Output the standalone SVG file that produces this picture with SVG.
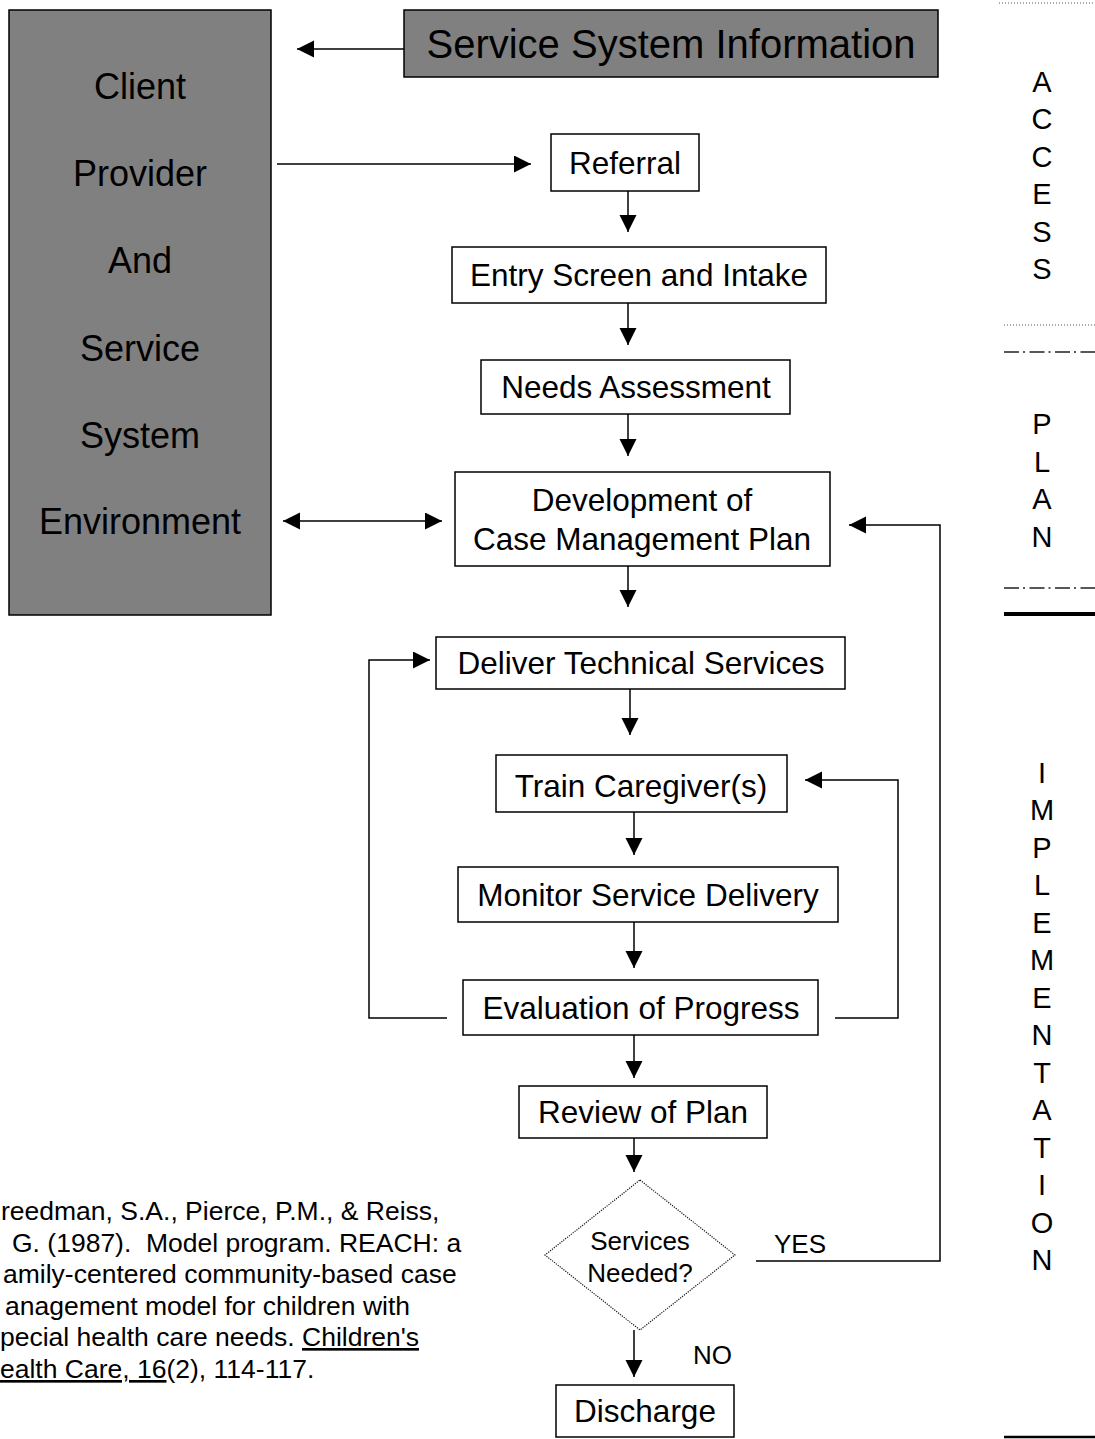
<svg xmlns="http://www.w3.org/2000/svg" width="1095" height="1439" viewBox="0 0 1095 1439">
<defs>
<marker id="ah" markerUnits="userSpaceOnUse" markerWidth="18" markerHeight="18" refX="17" refY="8.5" orient="auto-start-reverse">
<path d="M0,0 L17,8.5 L0,17 z" fill="#000"/>
</marker>
<style>
text{font-family:"Liberation Sans",Arial,sans-serif;fill:#000}
.box{fill:#fff;stroke:#000;stroke-width:1.5}
.gray{fill:#808080;stroke:#000;stroke-width:1.5}
.lbl{font-size:31.5px;text-anchor:middle}
.big{font-size:36px;text-anchor:middle}
.side{font-size:29px;text-anchor:middle}
.cite{font-size:26.5px}
.con{fill:none;stroke:#000;stroke-width:1.5}
.arr{marker-end:url(#ah)}
.dot{stroke:#555;stroke-width:1;stroke-dasharray:1 2}
.dd{stroke:#222;stroke-width:1.6;stroke-dasharray:15 4 2 4.5}
</style>
</defs>

<g id="environment">
<rect class="gray" x="9" y="10" width="262" height="605"/>
<text class="big" x="140" y="99">Client</text>
<text class="big" x="140" y="186">Provider</text>
<text class="big" x="140" y="273">And</text>
<text class="big" x="140" y="361">Service</text>
<text class="big" x="140" y="448">System</text>
<text class="big" x="140" y="534">Environment</text>
</g>

<g id="info">
<rect class="gray" x="404" y="10" width="534" height="67"/>
<text x="671" y="58" style="font-size:40px;text-anchor:middle">Service System Information</text>
</g>

<g id="referral"><rect class="box" x="551" y="134" width="148" height="57"/><text class="lbl" x="625" y="174">Referral</text></g>
<g id="entry"><rect class="box" x="452" y="247" width="374" height="56"/><text class="lbl" x="639" y="286">Entry Screen and Intake</text></g>
<g id="needs"><rect class="box" x="481" y="360" width="309" height="54"/><text class="lbl" x="636" y="398">Needs Assessment</text></g>
<g id="plan"><rect class="box" x="455" y="472" width="375" height="94"/><text class="lbl" x="642" y="511">Development of</text><text class="lbl" x="642" y="550">Case Management Plan</text></g>
<g id="deliver"><rect class="box" x="436" y="637" width="409" height="52"/><text class="lbl" x="641" y="674">Deliver Technical Services</text></g>
<g id="train"><rect class="box" x="496" y="755" width="291" height="57"/><text class="lbl" x="641" y="797">Train Caregiver(s)</text></g>
<g id="monitor"><rect class="box" x="458" y="867" width="380" height="55"/><text class="lbl" x="648" y="906">Monitor Service Delivery</text></g>
<g id="evaluation"><rect class="box" x="463" y="980" width="355" height="55"/><text class="lbl" x="641" y="1019">Evaluation of Progress</text></g>
<g id="review"><rect class="box" x="519" y="1086" width="248" height="52"/><text class="lbl" x="643" y="1123">Review of Plan</text></g>
<g id="decision">
<polygon points="640,1180 735,1255 640,1330 545,1255" fill="#fff" stroke="#111" stroke-width="1.2" stroke-dasharray="1.2 1.2"/>
<text x="640" y="1250" style="font-size:26px;text-anchor:middle">Services</text>
<text x="640" y="1282" style="font-size:26px;text-anchor:middle">Needed?</text>
</g>
<g id="discharge"><rect class="box" x="556" y="1385" width="178" height="52"/><text class="lbl" x="645" y="1422">Discharge</text></g>

<g id="connectors">
<line class="con arr" x1="404" y1="49" x2="297" y2="49"/>
<line class="con arr" x1="277" y1="164" x2="531" y2="164"/>
<line class="con arr" x1="628" y1="191" x2="628" y2="232"/>
<line class="con arr" x1="628" y1="303" x2="628" y2="345"/>
<line class="con arr" x1="628" y1="414" x2="628" y2="456"/>
<line class="con arr" x1="283" y1="521" x2="442" y2="521" style="marker-start:url(#ah)"/>
<line class="con arr" x1="628" y1="566" x2="628" y2="607"/>
<line class="con arr" x1="630" y1="689" x2="630" y2="735"/>
<line class="con arr" x1="634" y1="812" x2="634" y2="855"/>
<line class="con arr" x1="634" y1="922" x2="634" y2="968"/>
<line class="con arr" x1="634" y1="1035" x2="634" y2="1078"/>
<line class="con arr" x1="634" y1="1138" x2="634" y2="1172"/>
<line class="con arr" x1="634" y1="1330" x2="634" y2="1377"/>
<polyline class="con arr" points="447,1018 369,1018 369,660 430,660"/>
<polyline class="con arr" points="835,1018 898,1018 898,780 805,780"/>
<polyline class="con arr" points="756,1261 940,1261 940,525 849,525"/>
<text x="774" y="1253" style="font-size:26px">YES</text>
<text x="693" y="1364" style="font-size:26px">NO</text>
</g>

<g id="phases">
<line class="dot" x1="999" y1="3" x2="1095" y2="3"/>
<line class="dot" x1="1004" y1="325" x2="1095" y2="325"/>
<line class="dd" x1="1004" y1="352" x2="1095" y2="352"/>
<line class="dd" x1="1004" y1="588" x2="1095" y2="588"/>
<line stroke="#000" stroke-width="4" x1="1004" y1="614" x2="1095" y2="614"/>
<line stroke="#000" stroke-width="2.5" x1="1004" y1="1437" x2="1095" y2="1437"/>
<text class="side" x="1042" y="92"><tspan x="1042">A</tspan><tspan x="1042" dy="37.4">C</tspan><tspan x="1042" dy="37.4">C</tspan><tspan x="1042" dy="37.4">E</tspan><tspan x="1042" dy="37.4">S</tspan><tspan x="1042" dy="37.4">S</tspan></text>
<text class="side" x="1042" y="434"><tspan x="1042">P</tspan><tspan x="1042" dy="37.6">L</tspan><tspan x="1042" dy="37.6">A</tspan><tspan x="1042" dy="37.6">N</tspan></text>
<text class="side" x="1042" y="783"><tspan x="1042">I</tspan><tspan x="1042" dy="37.46">M</tspan><tspan x="1042" dy="37.46">P</tspan><tspan x="1042" dy="37.46">L</tspan><tspan x="1042" dy="37.46">E</tspan><tspan x="1042" dy="37.46">M</tspan><tspan x="1042" dy="37.46">E</tspan><tspan x="1042" dy="37.46">N</tspan><tspan x="1042" dy="37.46">T</tspan><tspan x="1042" dy="37.46">A</tspan><tspan x="1042" dy="37.46">T</tspan><tspan x="1042" dy="37.46">I</tspan><tspan x="1042" dy="37.46">O</tspan><tspan x="1042" dy="37.46">N</tspan></text>
</g>

<g id="citation" class="cite">
<text class="cite" x="1" y="1220">reedman, S.A., Pierce, P.M., &amp; Reiss,</text>
<text class="cite" x="12" y="1252" xml:space="preserve">G. (1987).  Model program. REACH: a</text>
<text class="cite" x="3" y="1283">amily-centered community-based case</text>
<text class="cite" x="5" y="1315">anagement model for children with</text>
<text class="cite" x="0" y="1346">pecial health care needs. <tspan text-decoration="underline">Children's</tspan></text>
<text class="cite" x="0" y="1378"><tspan text-decoration="underline">ealth Care, 16</tspan>(2), 114-117.</text>
</g>
</svg>
